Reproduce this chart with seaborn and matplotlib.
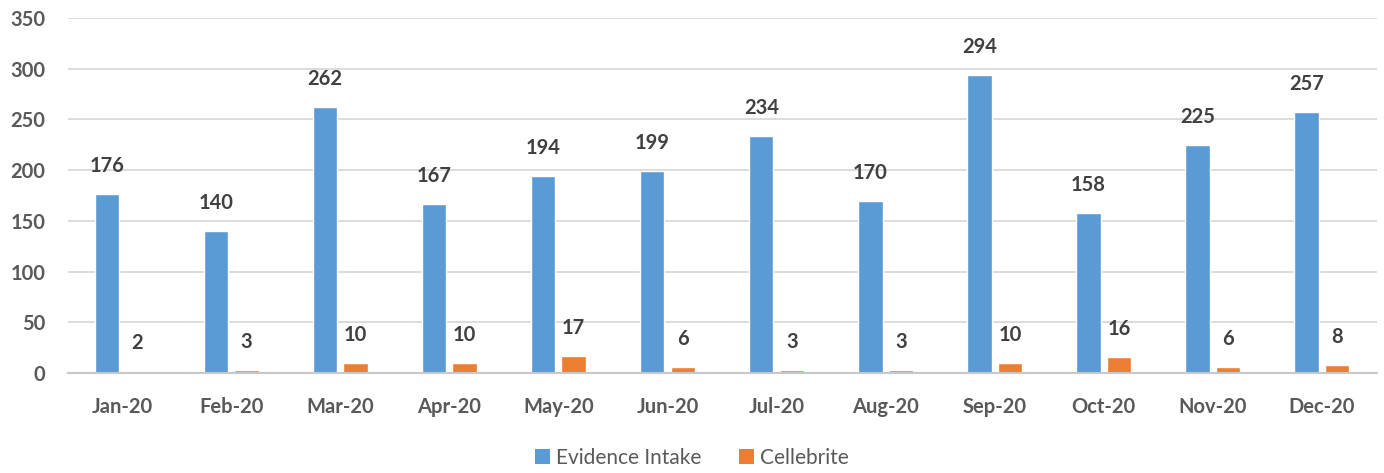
import matplotlib
matplotlib.use("Agg")
import matplotlib.pyplot as plt
import seaborn as sns
import pandas as pd
from matplotlib.patches import Patch

months = ["Jan-20", "Feb-20", "Mar-20", "Apr-20", "May-20", "Jun-20",
          "Jul-20", "Aug-20", "Sep-20", "Oct-20", "Nov-20", "Dec-20"]
evidence_intake = [176, 140, 262, 167, 194, 199, 234, 170, 294, 158, 225, 257]
cellebrite = [2, 3, 10, 10, 17, 6, 3, 3, 10, 16, 6, 8]
series_names = ["Evidence Intake", "Cellebrite"]
colors = ["#5B9BD5", "#ED7D31"]
yticks = [0, 50, 100, 150, 200, 250, 300, 350]

df = pd.DataFrame({
    "Month": months * 2,
    "Value": evidence_intake + cellebrite,
    "Series": [series_names[0]] * len(months) + [series_names[1]] * len(months),
})

sns.set_theme(style="white")
plt.rcParams["font.family"] = ["Lato", "DejaVu Sans"]
text_color = "#595959"

fig = plt.figure(figsize=(13.84, 4.73), dpi=100)
ax = fig.add_axes([67.5 / 1384, 100 / 473, 1309 / 1384, 355 / 473])

sns.barplot(data=df, x="Month", y="Value", hue="Series", order=months,
            hue_order=series_names, palette=colors, width=0.56, gap=0.2,
            saturation=1, ax=ax, legend=False, errorbar=None)

for container in ax.containers:
    ax.bar_label(container, padding=13, fontsize=14.5, fontweight="bold",
                 color="#404040")

ax.set_ylim(0, 350)
ax.set_xlim(-0.5, len(months) - 0.5)
ax.set_yticks(yticks)
ax.set_yticklabels([str(t) for t in yticks])
ax.set_xlabel("")
ax.set_ylabel("")
ax.grid(axis="y", color="#d9d9d9", linewidth=1.3)
ax.set_axisbelow(True)
for side in ["top", "right", "left"]:
    ax.spines[side].set_visible(False)
ax.spines["bottom"].set_color("#c8c8c8")
ax.spines["bottom"].set_linewidth(1.5)
ax.tick_params(axis="both", length=0, labelsize=14.5, colors=text_color)
ax.tick_params(axis="y", pad=16)
ax.tick_params(axis="x", pad=17)
for lbl in ax.get_xticklabels() + ax.get_yticklabels():
    lbl.set_fontweight("bold")

handles = [Patch(facecolor=c, edgecolor="none") for c in colors]
leg = fig.legend(handles, series_names, loc="center", bbox_to_anchor=(0.5, 15 / 473),
                 ncol=2, frameon=False, fontsize=15, handlelength=0.7,
                 handleheight=0.7, handletextpad=0.3, columnspacing=1.8)
for t in leg.get_texts():
    t.set_color(text_color)

fig.savefig("out.png", dpi=100)
